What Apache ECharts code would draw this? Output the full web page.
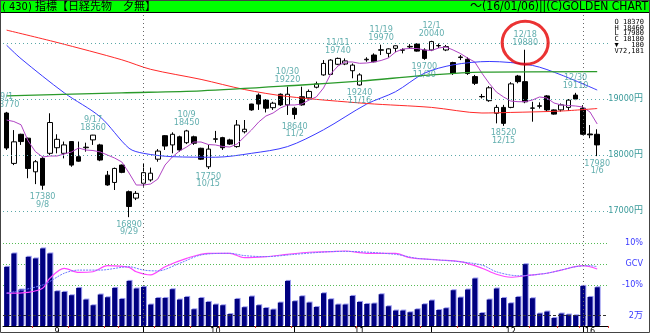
<!DOCTYPE html>
<html><head><meta charset="utf-8">
<script src="https://cdn.jsdelivr.net/npm/echarts@6/dist/echarts.min.js"></script>
<style>html,body{margin:0;padding:0;background:#fff}#c{width:650px;height:333px}</style>
</head><body><div id="c"></div>
<script>
// ---- data ----
const dates = ['9/1','9/2','9/3','9/4','9/7','9/8','9/9','9/10','9/11','9/14','9/15','9/16','9/17','9/18','9/24','9/25','9/28','9/29','9/30',
 '10/1','10/2','10/5','10/6','10/7','10/8','10/9','10/13','10/14','10/15','10/16','10/19','10/20','10/21','10/22','10/23','10/26','10/27','10/28','10/29','10/30',
 '11/2','11/4','11/5','11/6','11/9','11/10','11/11','11/12','11/13','11/16','11/17','11/18','11/19','11/20','11/24','11/25','11/26','11/27','11/30',
 '12/1','12/2','12/3','12/4','12/7','12/8','12/9','12/10','12/11','12/14','12/15','12/16','12/17','12/18','12/21','12/22','12/24','12/25','12/28','12/29','12/30',
 '1/4','1/5','1/6'];
const opens  = [18750,17850,18370,18300,17700,17940,18030,18130,18030,18240,17970,18130,18270,18180,17640,17510,17820,17345,17230,
 17495,17555,17925,18345,18180,18325,18220,18325,18120,17790,18280,18310,18270,18150,18415,18910,19070,18980,18845,19085,18895,
 18835,19040,19020,19210,19430,19440,19620,19625,19505,19250,19700,19785,19870,19815,19905,19870,19930,19980,19875,
 19875,19950,19875,19650,19740,19710,19400,19040,18970,18745,18850,18850,19410,19310,18835,18870,19055,18805,18805,18850,19070,
 18835,18375,18370];
const highs  = [18770,18445,18380,18310,17910,17970,18745,18370,18240,18250,18240,18220,18360,18200,17715,17775,17830,17365,17355,
 17850,17775,18105,18355,18405,18345,18450,18345,18130,18180,18430,18325,18290,18625,18625,18915,19100,19000,18950,19100,19220,
 18860,19220,19170,19310,19695,19710,19740,19725,19635,19460,19745,19815,19970,19905,19955,19905,19980,19995,19905,
 20040,19990,19965,19665,19785,19745,19430,19090,19230,18895,18895,19300,19430,19880,18950,18940,19070,18815,18920,19000,19110,
 18890,18535,18460];
const lows   = [18090,17820,18180,17585,17480,17380,18000,18030,17940,17790,17880,18060,18180,17890,17450,17375,17675,16890,17195,
 17435,17525,17880,18090,18030,18060,18195,18180,17910,17750,18220,18090,18180,18130,18385,18790,18805,18760,18805,18875,18715,
 18640,18880,18990,19190,19415,19430,19605,19605,19370,19240,19665,19655,19785,19740,19835,19815,19895,19845,19700,
 19855,19910,19855,19430,19695,19430,19250,19010,18950,18565,18520,18835,19280,18925,18595,18830,18775,18720,18775,18790,18980,
 18355,18300,17980];
const closes = [18125,18235,18240,17760,17880,17460,18580,18280,18180,17820,17890,18140,18355,17910,17465,17760,17690,17080,17315,
 17685,17675,18070,18160,18370,18090,18430,18210,17925,18105,18290,18130,18195,18535,18460,18805,18910,18835,18925,18895,19085,
 18725,18895,19135,19270,19635,19695,19725,19680,19605,19430,19710,19665,19880,19895,19950,19880,19940,19855,19725,
 20025,19955,19935,19455,19750,19455,19280,19045,19200,18850,18565,19270,19310,18950,18840,18880,18805,18730,18895,18980,19000,
 18370,18360,18180];
const volumes = [110300,135300,68000,129000,126000,144700,135300,64900,63600,57400,71000,49300,38700,58700,53600,71000,50500,84100,69900,
 72900,40000,52300,52300,68600,49300,54200,31200,52300,44900,40000,38700,22400,50500,35000,55000,38700,33600,30700,43700,84100,
 46200,55500,43700,35500,61100,49900,40000,40000,56100,44900,41100,41900,59200,36800,28800,28800,25600,31200,40600,
 47500,29900,33100,66700,53100,68000,88600,24300,49300,69900,52300,42400,54200,115300,51800,23200,26900,15000,23200,21300,20000,
 74800,54200,72181];
// purple short moving average (one value per day)
const maShort = [18625,18598,18540,18250,18060,17964,17982,17982,18018,18054,18125,18089,18080,18054,18000,17946,17875,17679,17464,
 17464,17482,17571,17821,17964,18071,18143,18232,18232,18187,18179,18152,18143,18196,18321,18446,18589,18696,18750,18839,18893,
 18893,18911,18982,19036,19196,19446,19589,19661,19661,19637,19643,19661,19688,19732,19839,19893,19902,19902,19875,
 19866,19911,19929,19875,19813,19732,19661,19460,19280,19125,19036,18964,18952,18952,18982,19036,19018,18929,18893,18884,18875,
 18857,18768,18554];
// longer averages, read at points along the line: [dayIndex, price]
const maMid = [[0,19960],[2,19720],[8,19110],[13,18680],[17,18120],[19,18030],[23,17970],[29,17960],[34,18030],[39,18150],[44,18450],
 [50,18910],[54,19130],[58,19460],[62,19610],[67,19670],[73,19600],[77,19430],[82,19160]];
const maLong = [[0,20230],[7,20010],[16,19700],[20,19530],[27,19350],[33,19170],[39,19045],[50,18920],[59,18850],[66,18750],[70,18760],[77,18785],[82,18830]];
const maVeryLong = [[0,19055],[16,19110],[27,19145],[41,19250],[49,19320],[59,19430],[66,19480],[82,19490]];
// lower panel oscillator lines, [dayIndex, percent]
const gcvMagenta = [[0,-13.9],[3,-13.5],[5,-11.6],[6,-6.8],[8,-2.1],[10,-4],[12,-3.7],[14,-0.8],[17,-1.6],[18,-3.7],[20,-5.2],[22,-1.3],
 [25,2.7],[28,5.1],[31,5.1],[33,3.0],[36,3.5],[39,4.6],[42,5.6],[45,5.9],[47,6.2],[50,5.1],[54,5.1],[56,3.0],[60,1.9],[63,1.1],
 [66,-2.0],[68,-4.9],[70,-6.3],[72,-5.6],[75,-4.4],[77,-2.9],[80,-0.8],[81,-1.3],[82,-2.4]];
const gcvBlue = [[0,-13.9],[5,-10.0],[8,-4.4],[10,-2.9],[13,-2.9],[17,-1.3],[19,-2.9],[21,-3.3],[24,0.3],[27,4.3],[31,5.1],[33,4.0],
 [36,3.5],[40,4.6],[45,5.9],[47,6.0],[54,4.6],[57,2.7],[62,1.4],[66,-0.5],[68,-3.7],[71,-5.6],[75,-4.4],[79,-1.3],[81,-0.8],[82,-1.3]];
// annotations
const highMarks = [['9/1',18770],['9/17',18360],['10/9',18450],['10/30',19220],['11/11',19740],['11/19',19970],['12/1',20040],['12/18',19880],['12/30',19110]];
const lowMarks  = [['9/8',17380],['9/29',16890],['10/15',17750],['11/2',18640],['11/16',19240],['11/30',19700],['12/15',18520],['1/6',17980]];
const circled = ['12/18',19880];
// ticks and labels
const priceTickLabels = [17000,18000,19000];
const priceGridLines = [17000,18000,19000,20000];
const gcvTickLabels = {'10':'10%','0':'GCV','-10':'-10%'};
const volTickValue = 20000, volTickLabel = '2万';
const monthLabels = {'9/10':'9','10/16':'10','11/16':'11','12/16':'12','1/5':'16'};
const monthStarts = ['10/1','11/2','12/1','1/4'];
const weekStarts = ['9/7','9/14','9/24','9/28','10/5','10/13','10/19','10/26','11/2','11/9','11/16','11/24','11/30','12/7','12/14','12/21','12/28','1/4'];
const quarterStarts = ['10/1','1/4'];
const titleLeft = '( 430) 指標【日経先物　夕無】';
const titleRight = '～(16/01/06)||(C)GOLDEN CHART';
const infoRows = ['O 18370','H 18460','L 17980','C 18180','▼   180','V72,181'];

// ---- chart ----
const NARROW = '"Liberation Sans Narrow","DejaVu Sans Condensed","Noto Sans CJK JP",sans-serif';
const TEAL = '#3a9a9a', BLUE = '#3a3aff';
const cats = dates.concat(['']);
const candle = dates.map((d,i)=>[opens[i],closes[i],lows[i],highs[i]]);
const monthStartIdx = new Set(monthStarts.map(d=>dates.indexOf(d)));
const weekStartIdx = new Set(weekStarts.map(d=>dates.indexOf(d)));

const chart = echarts.init(document.getElementById('c'), null, {renderer:'canvas'});
const hidden = {show:false};
const option = {
  animation:false,
  backgroundColor:'#fff',
  grid:[
    {left:3, top:13, width:605, height:223, outerBoundsMode:'none'},
    {left:3, top:237, width:605, height:89, outerBoundsMode:'none'},
    {left:3, top:243, width:605, height:42, outerBoundsMode:'none'}
  ],
  xAxis:[
    {type:'category', gridIndex:0, data:cats, boundaryGap:true, show:false},
    {type:'category', gridIndex:1, data:cats, boundaryGap:true, z:3,
      axisLine:{lineStyle:{color:'#000', width:1}},
      axisTick:{show:true, alignWithLabel:true, length:6, interval:(i)=>monthStartIdx.has(i), lineStyle:{color:'#000'}},
      axisLabel:{interval:(i,v)=>monthLabels[v]!==undefined, formatter:(v)=>monthLabels[v]||'', color:'#000',
        fontSize:9, fontFamily:NARROW, margin:1}},
    {type:'category', gridIndex:2, data:cats, boundaryGap:true, show:false},
    {type:'category', gridIndex:1, data:cats, boundaryGap:true, position:'bottom', z:4,
      axisLine:hidden, axisLabel:hidden,
      axisTick:{show:true, alignWithLabel:false, length:2, interval:(i)=>weekStartIdx.has(i), lineStyle:{color:'#e03030', width:1}}}
  ],
  yAxis:[
    {type:'value', gridIndex:0, position:'right', min:16553.6, max:20535.7, scale:true,
      splitLine:hidden, axisLine:hidden, axisTick:hidden,
      axisLabel:{customValues:priceTickLabels, formatter:(v)=>v+'円', color:TEAL, fontSize:9, fontFamily:NARROW, align:'right', margin:35}},
    {type:'value', gridIndex:1, position:'right', min:0, max:166000,
      splitLine:hidden, axisLine:hidden, axisTick:hidden,
      axisLabel:{customValues:[volTickValue], formatter:()=>volTickLabel, color:BLUE, fontSize:9, fontFamily:NARROW, align:'right', margin:35}},
    {type:'value', gridIndex:2, position:'right', min:-10, max:10, interval:10,
      splitLine:{show:true, lineStyle:{type:[1,2], color:'#55bb55', width:1}}, axisLine:hidden, axisTick:hidden,
      axisLabel:{formatter:(v)=>gcvTickLabels[String(v)]||'', color:BLUE, fontSize:9, fontFamily:NARROW, align:'right', margin:35}}
  ],
  series:[
    {type:'candlestick', xAxisIndex:0, yAxisIndex:0, data:candle, barWidth:5, z:2,
      itemStyle:{color:'#fff', color0:'#000', borderColor:'#000', borderColor0:'#000', borderWidth:1},
      markLine:{silent:true, symbol:['none','none'], label:{show:false}, animation:false,
        data: priceGridLines.map(v=>({yAxis:v, lineStyle:{type:[1,3], color:'#5aa8a8', width:1}}))
          .concat(quarterStarts.map(d=>({xAxis:d, lineStyle:{type:[1,3], color:'#666', width:1}})))}},
    {type:'line', xAxisIndex:0, yAxisIndex:0, data:maShort, symbol:'none', z:3, lineStyle:{color:'#b044c4', width:1}},
    {type:'line', xAxisIndex:0, yAxisIndex:0, data:maMid, symbol:'none', smooth:0.3, z:3, lineStyle:{color:'#3a3aff', width:1}},
    {type:'line', xAxisIndex:0, yAxisIndex:0, data:maLong, symbol:'none', smooth:0.3, z:3, lineStyle:{color:'#ff2a2a', width:1}},
    {type:'line', xAxisIndex:0, yAxisIndex:0, data:maVeryLong, symbol:'none', smooth:0.3, z:3, lineStyle:{color:'#2a9a2a', width:1.3}},
    {type:'scatter', xAxisIndex:0, yAxisIndex:0, data:highMarks, symbolSize:1, itemStyle:{color:'rgba(0,0,0,0)'}, z:4,
      label:{show:true, position:'top', distance:3, color:TEAL, fontSize:9, fontFamily:NARROW, lineHeight:7.5, align:'center',
        formatter:(p)=>highMarks[p.dataIndex][0]+'\n'+highMarks[p.dataIndex][1]}},
    {type:'scatter', xAxisIndex:0, yAxisIndex:0, data:lowMarks, symbolSize:1, itemStyle:{color:'rgba(0,0,0,0)'}, z:4,
      label:{show:true, position:'bottom', distance:3, color:TEAL, fontSize:9, fontFamily:NARROW, lineHeight:7.5, align:'center',
        formatter:(p)=>lowMarks[p.dataIndex][1]+'\n'+lowMarks[p.dataIndex][0]}},
    {type:'scatter', xAxisIndex:0, yAxisIndex:0, data:[circled], symbol:'circle', symbolSize:[46,43], symbolOffset:[0,-7], z:5,
      itemStyle:{color:'rgba(0,0,0,0)', borderColor:'#e60000', borderWidth:3}},
    {type:'bar', xAxisIndex:1, yAxisIndex:1, data:volumes, barWidth:5, z:2,
      itemStyle:{color:'#000080', shadowColor:'#9a9af0', shadowOffsetX:1, shadowOffsetY:-1, shadowBlur:0},
      markLine:{silent:true, symbol:['none','none'], label:{show:false}, animation:false,
        data:[{yAxis:volTickValue, lineStyle:{type:[3,2], color:'#333', width:1}}]
          .concat(quarterStarts.map(d=>({xAxis:d, lineStyle:{type:[1,3], color:'#666', width:1}})))}},
    {type:'line', xAxisIndex:2, yAxisIndex:2, data:gcvMagenta, symbol:'none', smooth:0.3, clip:false, z:4, lineStyle:{color:'#ff44ff', width:1.2}},
    {type:'line', xAxisIndex:2, yAxisIndex:2, data:gcvBlue, symbol:'none', smooth:0.3, clip:false, z:4, lineStyle:{color:'#6e7cff', width:1, type:[2,1]}}
  ],
  graphic:[
    {type:'rect', shape:{x:0.5, y:0.5, width:649, height:12}, style:{fill:'#00ff00', stroke:'#000', lineWidth:1}, z:10},
    {type:'text', x:2, y:7, style:{text:titleLeft, fill:'#000', font:'11px '+NARROW, align:'left', verticalAlign:'middle'}, z:11},
    {type:'text', x:648, y:7, style:{text:titleRight, fill:'#000', font:'12px '+NARROW, align:'right', verticalAlign:'middle'}, z:11},
    {type:'rect', shape:{x:0.5, y:0.5, width:649, height:332}, style:{fill:'none', stroke:'#444', lineWidth:1}, z:10}
  ].concat(infoRows.map((t,i)=>({type:'text', x:644, y:22+i*5.8,
      style:{text:t, fill:'#000', font:'7px "DejaVu Sans Mono",monospace', align:'right', verticalAlign:'middle'}, z:11})))
};
chart.setOption(option);
</script></body></html>
